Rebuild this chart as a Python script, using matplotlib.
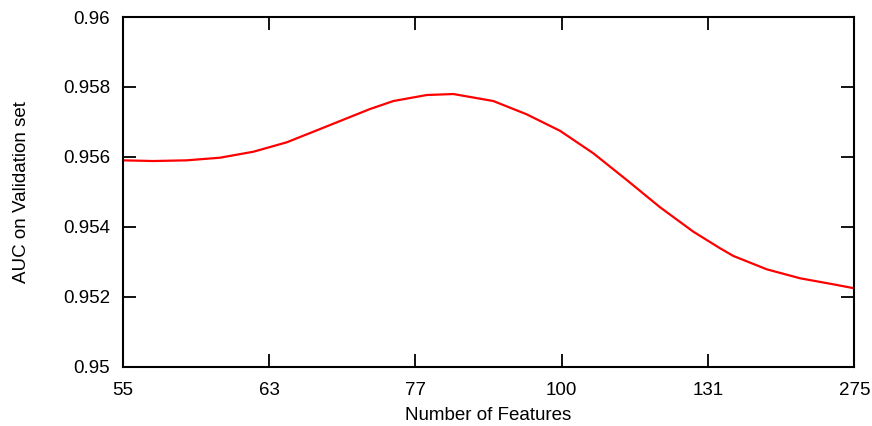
import matplotlib
matplotlib.use("Agg")
import matplotlib.pyplot as plt

# Tick categories (evenly spaced on the axis)
feature_counts = ["55", "63", "77", "100", "131", "275"]

# Curve: position in tick-index units, AUC value
curve_pos = [0.0, 0.209, 0.437, 0.665, 0.893, 1.121, 1.349, 1.576, 1.690, 1.850,
             2.078, 2.260, 2.533, 2.761, 2.989, 3.217, 3.445, 3.673, 3.900, 4.083,
             4.174, 4.402, 4.630, 4.857, 5.0]
curve_auc = [0.955902, 0.955882, 0.955902, 0.955977, 0.956148, 0.956417, 0.956797,
             0.957178, 0.957369, 0.957598, 0.957770, 0.957798, 0.957598, 0.957218,
             0.956746, 0.956102, 0.955339, 0.954558, 0.953861, 0.953386, 0.953166,
             0.952785, 0.952528, 0.952356, 0.952242]

y_ticks = [0.95, 0.952, 0.954, 0.956, 0.958, 0.96]
y_labels = ["0.95", "0.952", "0.954", "0.956", "0.958", "0.96"]

plt.rcParams['font.family'] = ['Liberation Sans', 'DejaVu Sans']

fig = plt.figure(figsize=(8.72, 4.26), dpi=100)
ax = fig.add_axes([0.1407, 0.1392, 0.9797 - 0.1407, 0.960 - 0.1392])

ax.plot(curve_pos, curve_auc, color='#ff0000', linewidth=1.6,
        solid_joinstyle='round', solid_capstyle='round')

ax.set_xlim(0, len(feature_counts) - 1)
ax.set_ylim(0.95, 0.96)
ax.set_xticks(range(len(feature_counts)))
ax.set_xticklabels(feature_counts)
ax.set_yticks(y_ticks)
ax.set_yticklabels(y_labels)

for s in ax.spines.values():
    s.set_linewidth(1.5)
ax.tick_params(direction='in', length=9.5, width=1.3, labelsize=13.5,
               top=True, right=True)
ax.tick_params(axis='x', pad=11)
ax.tick_params(axis='y', pad=9)

ax.set_xlabel("Number of Features", fontsize=13.5, labelpad=6)
ax.set_ylabel("AUC on Validation set", fontsize=13.5, labelpad=24)

fig.savefig("out.png", dpi=100)
